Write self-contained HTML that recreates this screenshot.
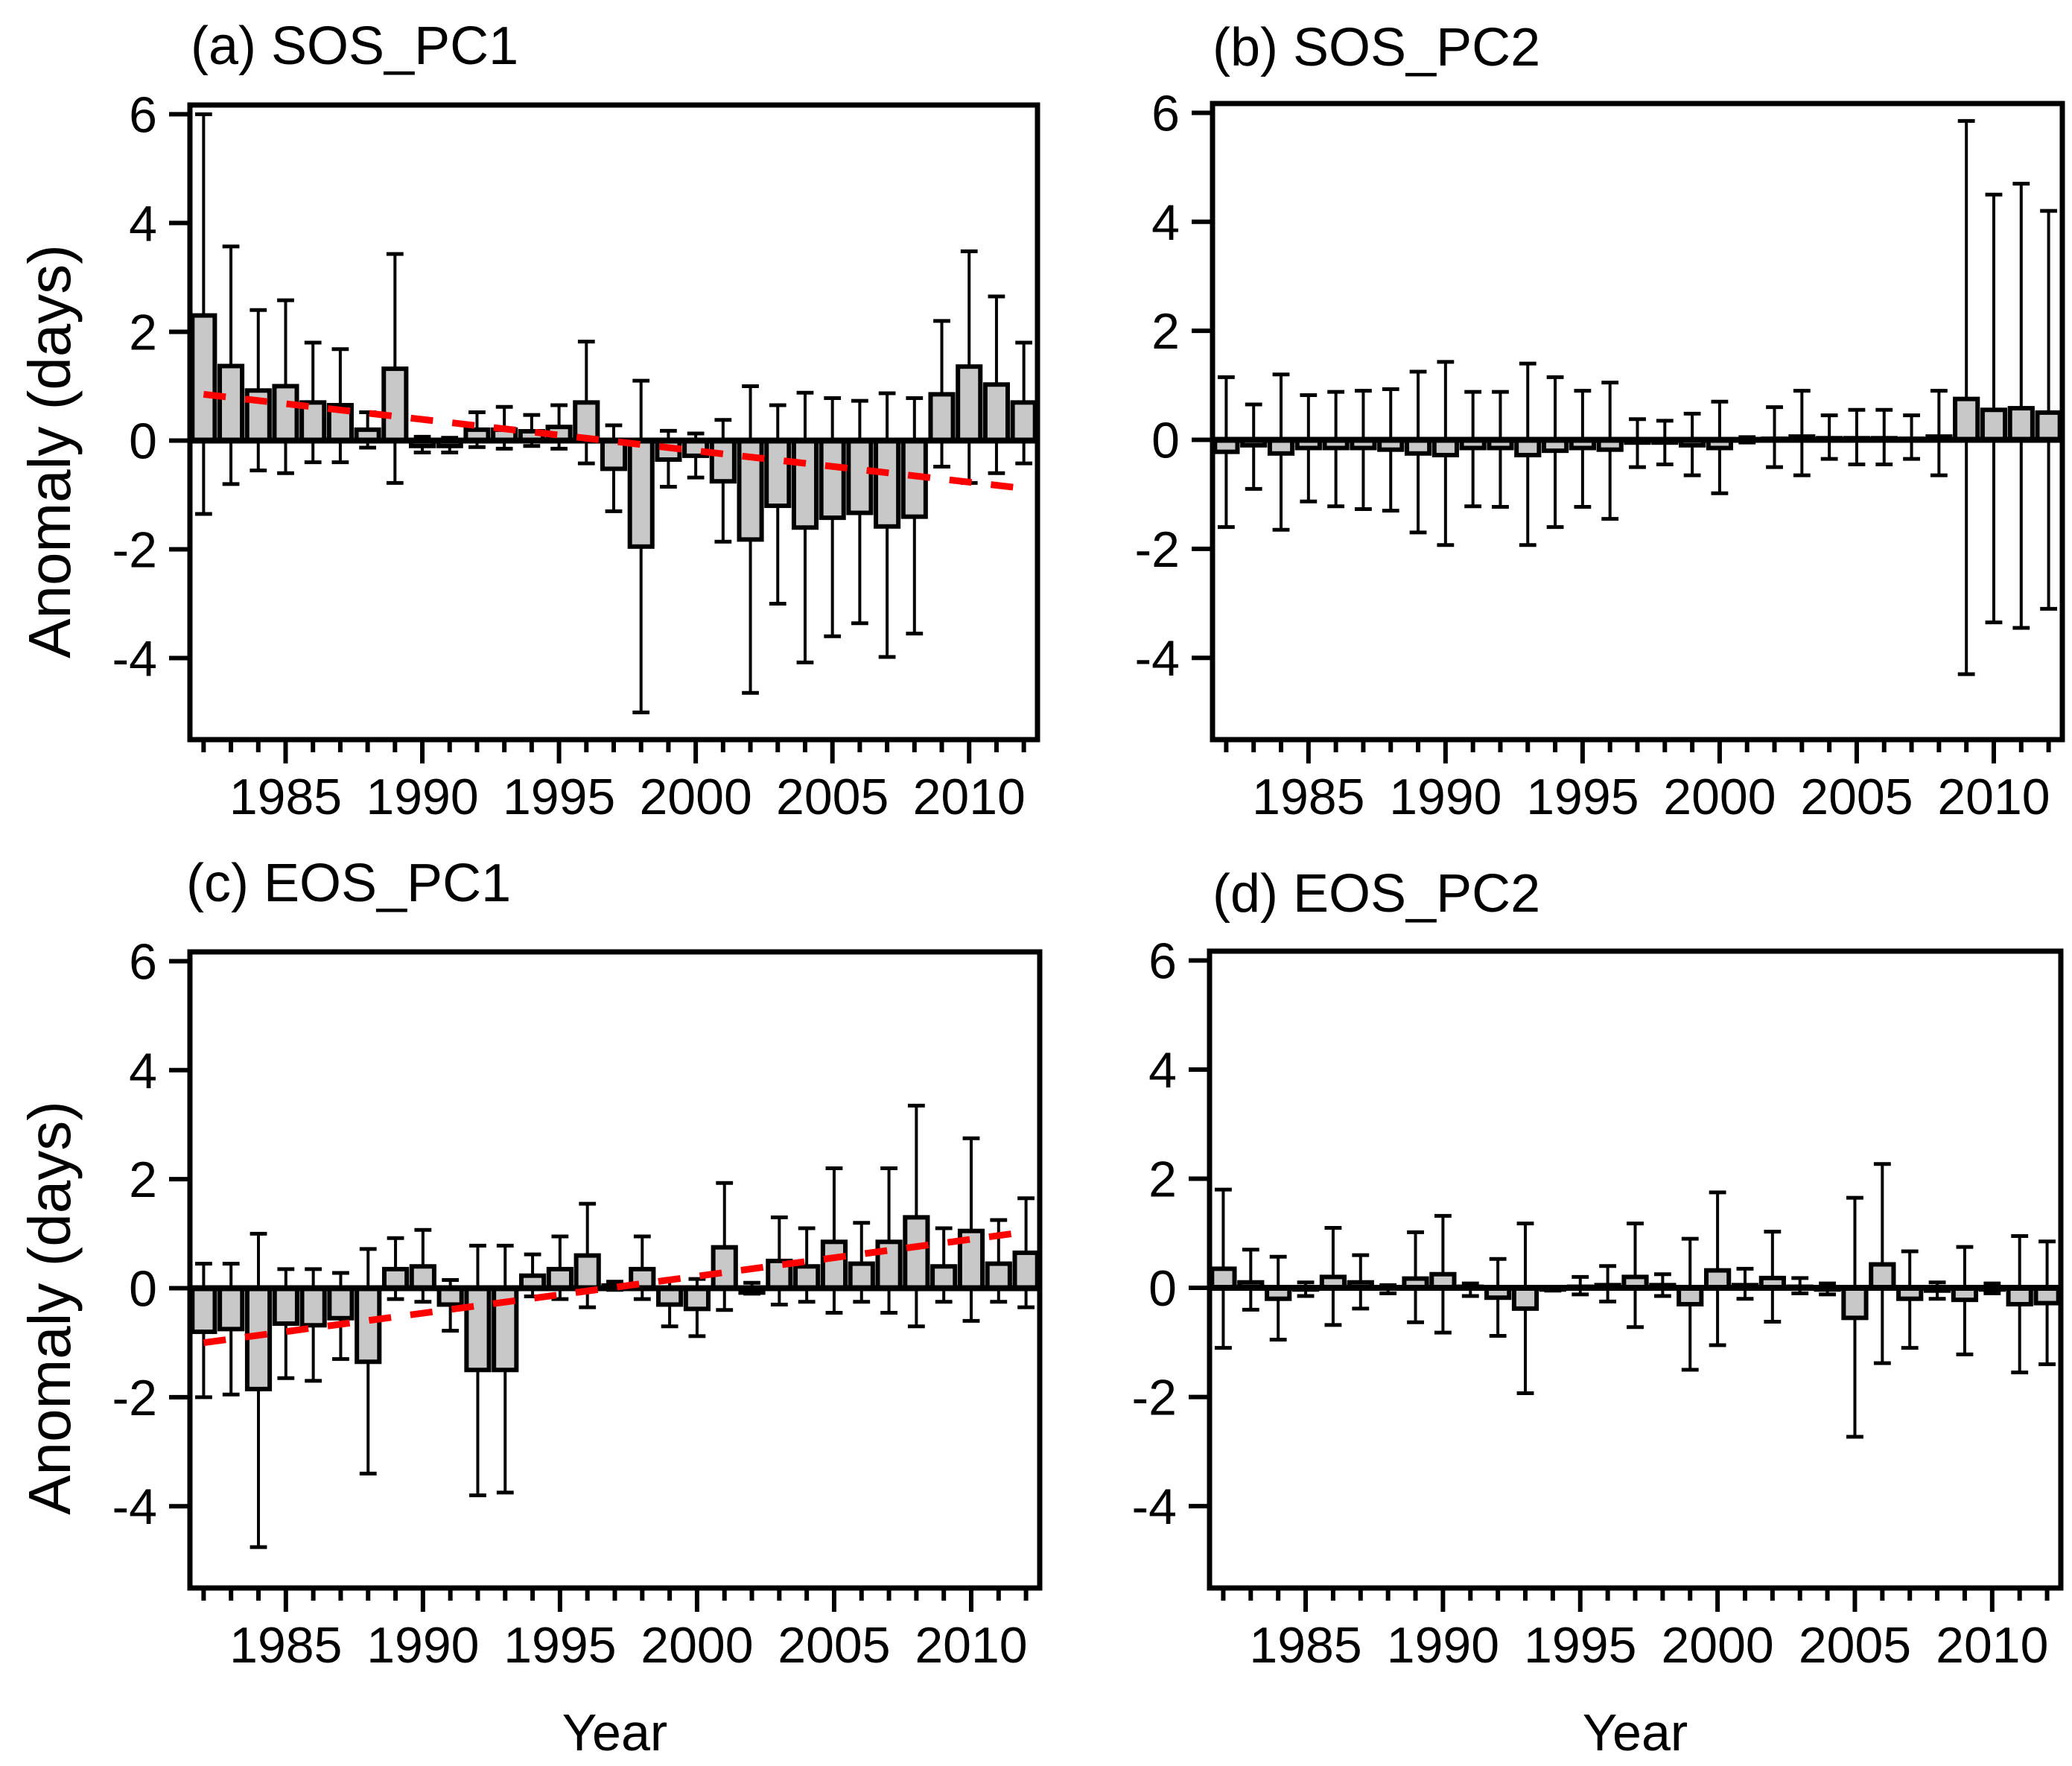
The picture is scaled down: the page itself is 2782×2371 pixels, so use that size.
<!DOCTYPE html>
<html><head><meta charset="utf-8"><style>
html,body{margin:0;padding:0;background:#fff;}
svg{display:block;}
text{font-family:"Liberation Sans",Arial,sans-serif;fill:#000;}
</style></head><body>
<svg id="fig" width="2782" height="2371" viewBox="0 0 2782 2371" xmlns="http://www.w3.org/2000/svg"></svg>
<script>
const years = [1982,1983,1984,1985,1986,1987,1988,1989,1990,1991,1992,1993,1994,1995,1996,1997,1998,1999,2000,2001,2002,2003,2004,2005,2006,2007,2008,2009,2010,2011,2012];
const xTickLabels = [1985,1990,1995,2000,2005,2010];
const yTickLabels = [6,4,2,0,-2,-4];

const sosPc1 = [2.3,1.37,0.92,1.0,0.7,0.65,0.2,1.32,-0.1,-0.1,0.2,0.2,0.17,0.25,0.7,-0.52,-1.95,-0.35,-0.28,-0.75,-1.82,-1.2,-1.6,-1.42,-1.33,-1.58,-1.4,0.85,1.36,1.03,0.7];
const sosPc1Hi = [6.0,3.57,2.4,2.58,1.8,1.68,0.52,3.43,0.07,0.05,0.52,0.62,0.47,0.65,1.82,0.28,1.1,0.18,0.13,0.38,1.0,0.65,0.88,0.78,0.73,0.87,0.78,2.2,3.48,2.65,1.8];
const sosPc1Lo = [-1.35,-0.8,-0.55,-0.6,-0.4,-0.4,-0.13,-0.78,-0.22,-0.22,-0.12,-0.15,-0.1,-0.15,-0.42,-1.3,-5.0,-0.85,-0.68,-1.86,-4.64,-3.0,-4.08,-3.6,-3.36,-3.98,-3.55,-0.48,-0.78,-0.6,-0.42];
const sosPc1Trend = [0.85,-0.88];

const sosPc2 = [-0.22,-0.1,-0.25,-0.15,-0.15,-0.15,-0.18,-0.25,-0.28,-0.15,-0.15,-0.28,-0.2,-0.15,-0.18,-0.05,-0.05,-0.1,-0.15,0.0,0.02,0.06,0.03,0.03,0.03,0.02,0.06,0.75,0.55,0.58,0.5];
const sosPc2Hi = [1.15,0.65,1.2,0.82,0.88,0.9,0.93,1.25,1.43,0.88,0.88,1.4,1.15,0.9,1.05,0.38,0.35,0.48,0.7,0.05,0.6,0.9,0.45,0.55,0.55,0.45,0.9,5.85,4.5,4.7,4.2];
const sosPc2Lo = [-1.6,-0.9,-1.65,-1.13,-1.22,-1.27,-1.3,-1.7,-1.93,-1.22,-1.23,-1.93,-1.6,-1.23,-1.45,-0.5,-0.45,-0.65,-0.98,-0.05,-0.5,-0.65,-0.35,-0.45,-0.45,-0.35,-0.65,-4.3,-3.35,-3.45,-3.1];

const eosPc1 = [-0.8,-0.75,-1.85,-0.65,-0.68,-0.55,-1.35,0.35,0.4,-0.3,-1.5,-1.5,0.23,0.35,0.6,0.05,0.35,-0.3,-0.38,0.75,-0.08,0.5,0.4,0.85,0.45,0.85,1.3,0.4,1.05,0.45,0.65];
const eosPc1Hi = [0.45,0.45,1.0,0.35,0.35,0.28,0.72,0.92,1.07,0.15,0.78,0.78,0.62,0.95,1.55,0.12,0.95,0.15,0.17,1.93,0.1,1.3,1.1,2.2,1.2,2.2,3.35,1.1,2.75,1.25,1.65];
const eosPc1Lo = [-2.0,-1.95,-4.75,-1.65,-1.7,-1.3,-3.4,-0.2,-0.25,-0.78,-3.8,-3.75,-0.15,-0.2,-0.35,-0.03,-0.2,-0.7,-0.88,-0.4,-0.1,-0.3,-0.25,-0.45,-0.25,-0.45,-0.7,-0.25,-0.6,-0.25,-0.35];
const eosPc1Trend = [-1.0,1.0];

const eosPc2 = [0.35,0.1,-0.2,-0.03,0.2,0.1,0.0,0.17,0.25,0.02,-0.18,-0.38,-0.03,0.02,0.05,0.2,0.05,-0.3,0.32,0.05,0.18,0.02,-0.03,-0.55,0.43,-0.2,-0.05,-0.22,-0.03,-0.3,-0.28];
const eosPc2Hi = [1.8,0.7,0.57,0.1,1.1,0.6,0.05,1.02,1.32,0.08,0.53,1.18,0.0,0.2,0.4,1.18,0.25,0.9,1.75,0.35,1.03,0.18,0.08,1.65,2.27,0.67,0.1,0.75,0.08,0.95,0.85];
const eosPc2Lo = [-1.1,-0.4,-0.95,-0.15,-0.68,-0.38,-0.1,-0.63,-0.82,-0.15,-0.88,-1.93,-0.05,-0.12,-0.25,-0.72,-0.15,-1.5,-1.05,-0.2,-0.62,-0.1,-0.12,-2.73,-1.38,-1.1,-0.2,-1.22,-0.1,-1.55,-1.4];

const NS='http://www.w3.org/2000/svg';
const svg=document.getElementById('fig');
function mk(tag,attrs,parent){const e=document.createElementNS(NS,tag);for(const k in attrs)e.setAttribute(k,attrs[k]);(parent||svg).appendChild(e);return e;}

function panel(id,title,L,R,T,B,vals,hi,lo,trend,trendEnd,titleX,titleY,showYLabel,yLabelY,showYear){
  const g=mk('g',{});
  
  
  const x0=1981.5,x1=2012.5,yMin=-5.5,yMax=6.17;
  const xs=v=>L+(v-x0)/(x1-x0)*(R-L);
  const ys=v=>T+(yMax-v)/(yMax-yMin)*(B-T);
  const t=mk('text',{x:titleX,y:titleY,'font-size':72},g);t.textContent=title;
  
  
  const yw=(x1-x0);const bw=(R-L)/yw*0.82;const cw=(R-L)/yw*0.62;
  for(let i=0;i<years.length;i++){
    const cx=xs(years[i]);const v=vals[i];
    const el=mk('line',{x1:cx,x2:cx,y1:ys(hi[i]),y2:ys(lo[i]),stroke:'#000','stroke-width':4},g);
    
    
    mk('line',{x1:cx-cw/2,x2:cx+cw/2,y1:ys(hi[i]),y2:ys(hi[i]),stroke:'#000','stroke-width':5},g);
    mk('line',{x1:cx-cw/2,x2:cx+cw/2,y1:ys(lo[i]),y2:ys(lo[i]),stroke:'#000','stroke-width':5},g);
    const y0=ys(0),yv=ys(v);
    const b=mk('rect',{x:cx-bw/2,y:Math.min(y0,yv),width:bw,height:Math.abs(yv-y0),fill:'#c8c8c8',stroke:'#000','stroke-width':6},g);
    
    
  }
  mk('line',{x1:L,x2:R,y1:ys(0),y2:ys(0),stroke:'#000','stroke-width':8},g);
  if(trend){
    const tl=mk('line',{x1:xs(years[0]),y1:ys(trend[0]),x2:xs(trendEnd),y2:ys(trend[1]),stroke:'#ff0000','stroke-width':9,'stroke-dasharray':'30 26'},g);
    
    
  }
  const fr=mk('rect',{x:L,y:T,width:R-L,height:B-T,fill:'none',stroke:'#000','stroke-width':7},g);
  
  
  for(const v of yTickLabels){
    mk('line',{x1:L-28,x2:L,y1:ys(v),y2:ys(v),stroke:'#000','stroke-width':6},g);
    const tx=mk('text',{x:L-44,y:ys(v)+24,'font-size':68,'text-anchor':'end'},g);tx.textContent=v;
    
    
  }
  for(const yr of years){
    const major=xTickLabels.includes(yr);
    mk('line',{x1:xs(yr),x2:xs(yr),y1:B,y2:B+(major?32:17),stroke:'#000','stroke-width':6},g);
  }
  for(const yr of xTickLabels){
    const tx=mk('text',{x:xs(yr),y:B+100,'font-size':68,'text-anchor':'middle'},g);tx.textContent=yr;
    
    
  }
  if(showYLabel){
    const yl=mk('text',{x:0,y:0,'font-size':80,'text-anchor':'middle',transform:'translate(94,'+yLabelY+') rotate(-90)'},g);yl.textContent='Anomaly (days)';
    
    
  }
  if(showYear){
    const xl=mk('text',{x:(L+R)/2,y:2350,'font-size':70,'text-anchor':'middle'},g);xl.textContent='Year';
    
    
  }
}
panel('sos-pc1','(a) SOS_PC1',255,1393,141,993,sosPc1,sosPc1Hi,sosPc1Lo,sosPc1Trend,2012,256,86,true,606,false);
panel('sos-pc2','(b) SOS_PC2',1628,2769,139,993,sosPc2,sosPc2Hi,sosPc2Lo,null,0,1628,88,false,0,false);
panel('eos-pc1','(c) EOS_PC1',255,1396,1278,2132,eosPc1,eosPc1Hi,eosPc1Lo,eosPc1Trend,2011.5,250,1210,true,1756,true);
panel('eos-pc2','(d) EOS_PC2',1624,2767,1277,2132,eosPc2,eosPc2Hi,eosPc2Lo,null,0,1628,1224,false,0,true);
</script>
</body></html>
